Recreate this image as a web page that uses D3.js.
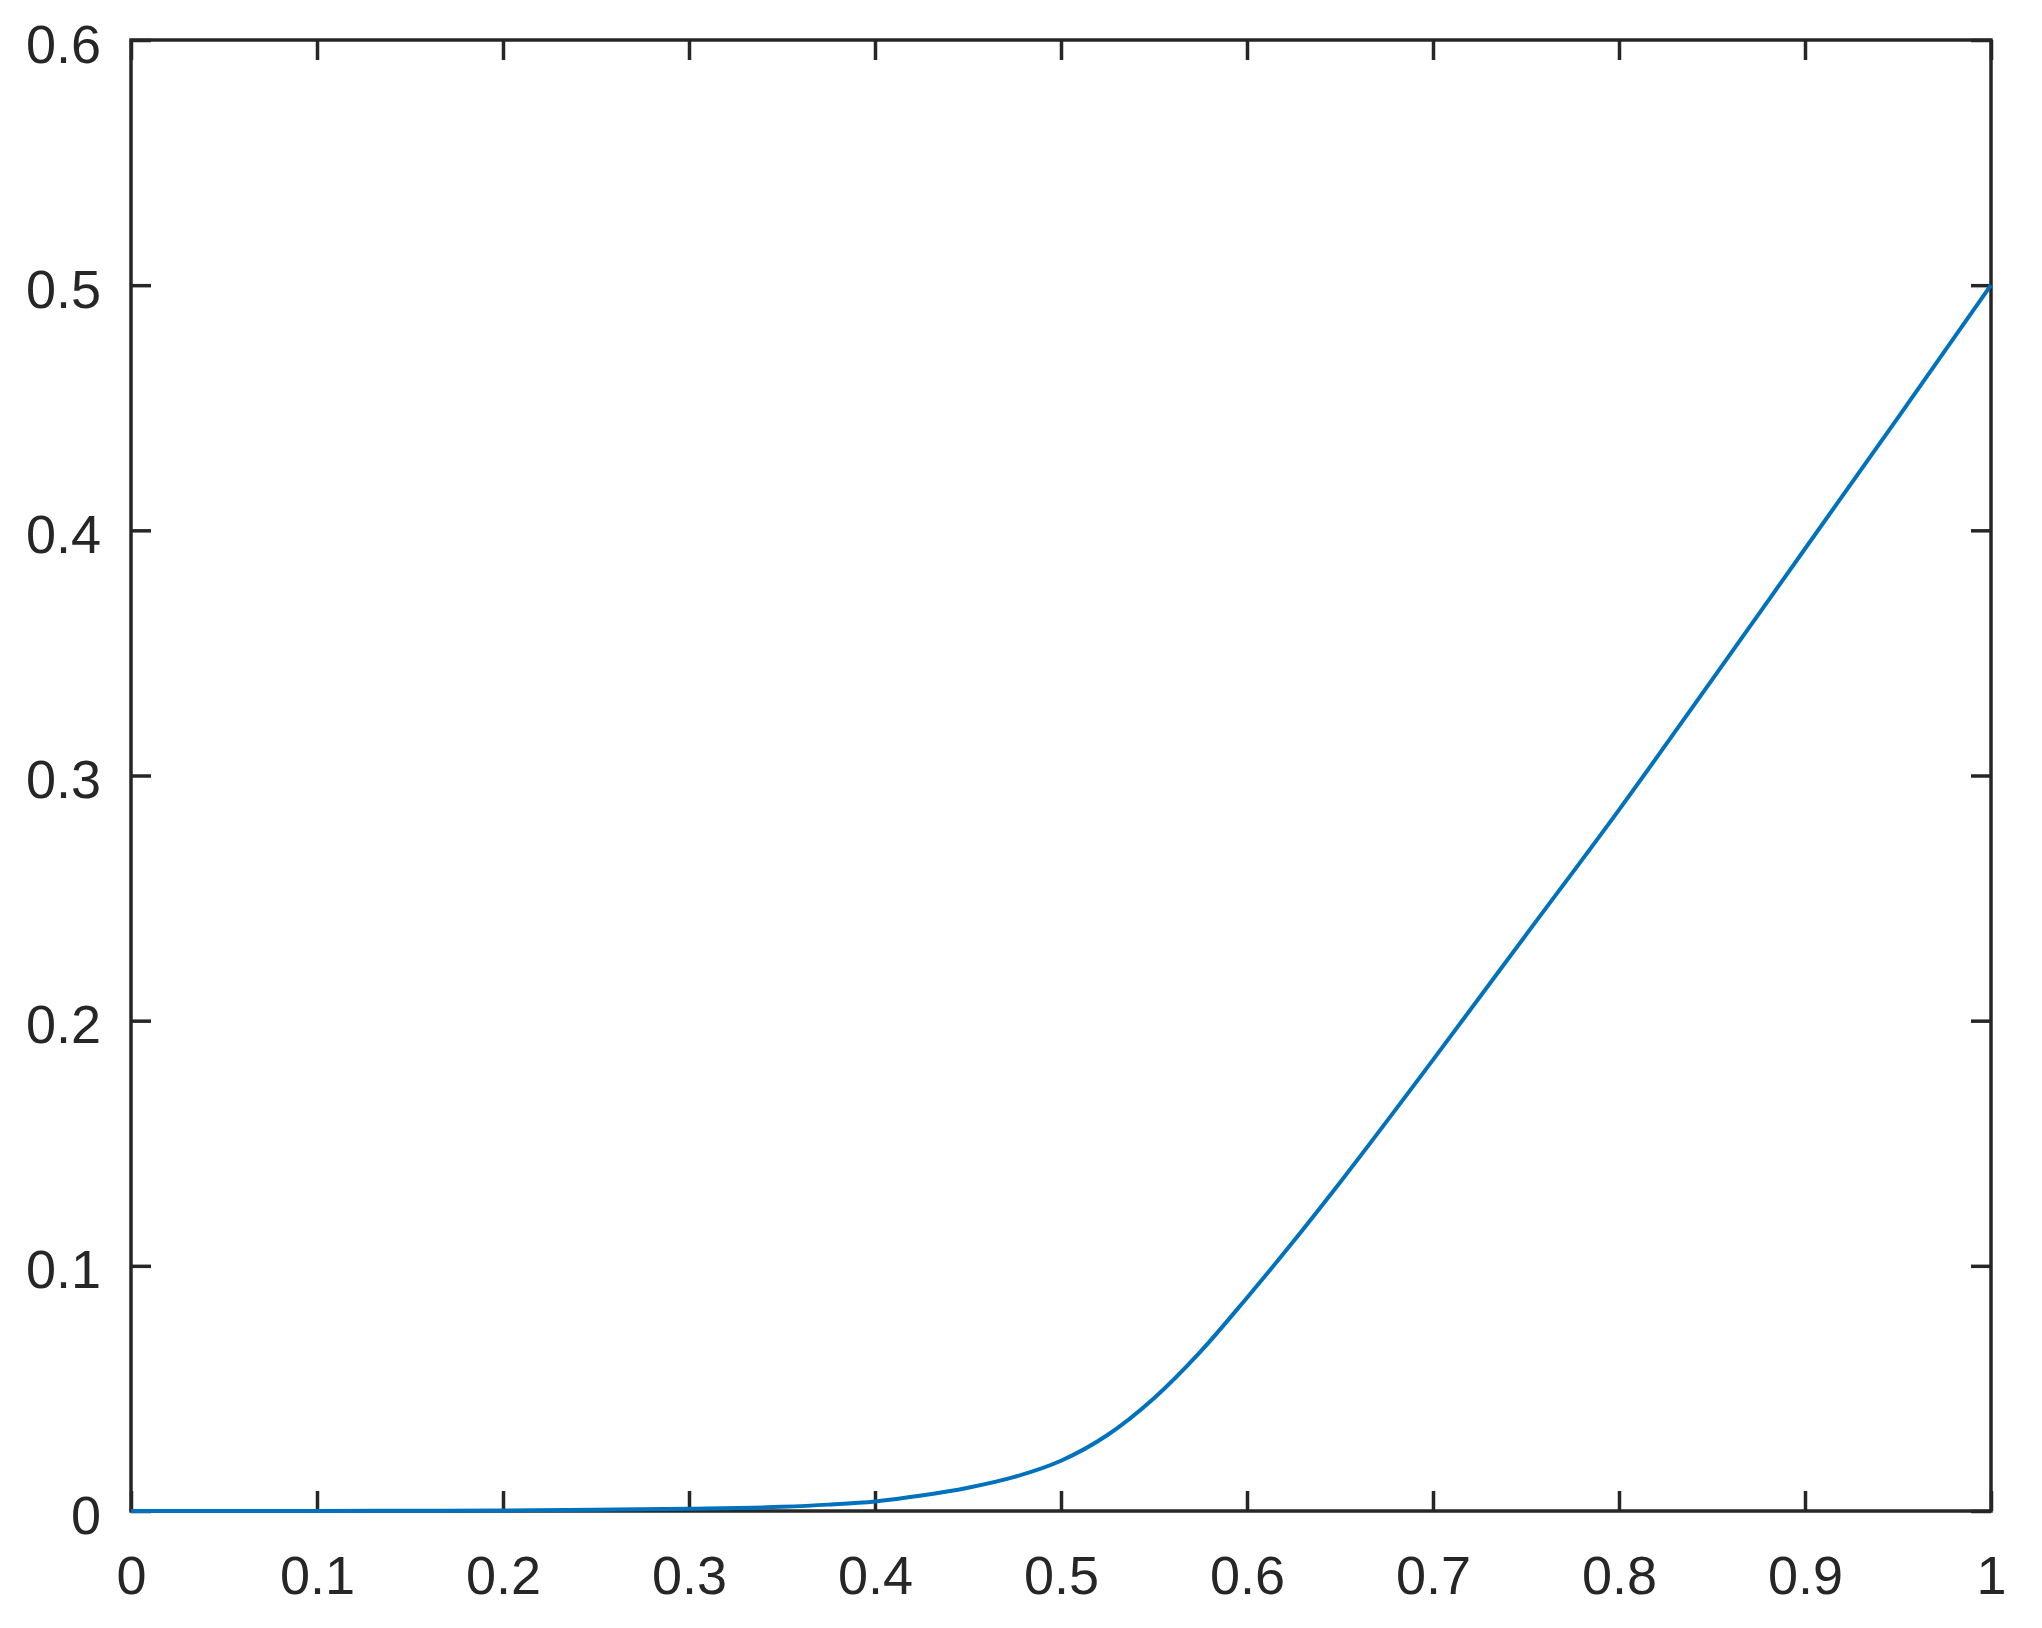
<!DOCTYPE html>
<html>
<head>
<meta charset="utf-8">
<script src="https://cdn.jsdelivr.net/npm/d3@7"></script>
<style>
  html, body { margin: 0; padding: 0; background: white; overflow: hidden; }
  svg { display: block; }
</style>
</head>
<body>
<svg width="2042" height="1628" viewBox="0 0 2042 1628"></svg>
<script>
// curve samples
const xValues = [0, 0.05, 0.1, 0.15, 0.2, 0.25, 0.3, 0.35, 0.375, 0.4, 0.425, 0.45, 0.475,
                 0.5, 0.525, 0.55, 0.575, 0.6, 0.625, 0.65, 0.7, 0.75, 0.8, 0.85, 0.9, 0.95, 1];
const yValues = [0, 0, 0, 0.0001, 0.0002, 0.0005, 0.0009, 0.0017, 0.0026, 0.0039, 0.0063, 0.0095, 0.0139,
                 0.0205, 0.0310, 0.0460, 0.0650, 0.0870, 0.110, 0.134, 0.184, 0.235, 0.286, 0.339, 0.3925, 0.446, 0.5];

const xTickValues = [0, 0.1, 0.2, 0.3, 0.4, 0.5, 0.6, 0.7, 0.8, 0.9, 1];
const xTickLabels = ['0', '0.1', '0.2', '0.3', '0.4', '0.5', '0.6', '0.7', '0.8', '0.9', '1'];
const yTickValues = [0, 0.1, 0.2, 0.3, 0.4, 0.5, 0.6];
const yTickLabels = ['0', '0.1', '0.2', '0.3', '0.4', '0.5', '0.6'];

const svg = d3.select('svg');
const svg_width = parseFloat(svg.attr('width'));
const svg_height = parseFloat(svg.attr('height'));

const margin = {
    top: 40,
    bottom: 117,
    left: 131,
    right: 51,
};
const innerWidth = svg_width - margin.left - margin.right;
const innerHeight = svg_height - margin.top - margin.bottom;

const axisColor = '#262626';
const fontFamily = '"Liberation Sans", Arial, Helvetica, sans-serif';
const tickLen = 20;

const xScale = d3.scaleLinear().domain([0, 1]).range([0, innerWidth]);
const yScale = d3.scaleLinear().domain([0, 0.6]).range([innerHeight, 0]);

const g = svg.append('g')
      .attr('transform', `translate(${margin.left}, ${margin.top})`);

const styleAxis = sel => {
    sel.attr('font-size', 54).attr('font-family', fontFamily);
    sel.selectAll('.domain').remove();
    sel.selectAll('.tick line').attr('stroke', axisColor).attr('stroke-width', 3.5);
    sel.selectAll('.tick text').attr('fill', axisColor);
};

// bottom & top (ticks point inward, like matlab)
const xAxis = d3.axisBottom(xScale)
      .tickValues(xTickValues)
      .tickFormat((d, i) => xTickLabels[i])
      .tickSize(-tickLen)
      .tickPadding(45);
g.append('g').attr('transform', `translate(0, ${innerHeight})`).call(xAxis).call(styleAxis);
g.append('g').call(d3.axisTop(xScale).tickValues(xTickValues).tickFormat('').tickSize(-tickLen)).call(styleAxis);

// left & right
const yAxis = d3.axisLeft(yScale)
      .tickValues(yTickValues)
      .tickFormat((d, i) => yTickLabels[i])
      .tickSize(-tickLen)
      .tickPadding(30);
const yAxisGroup = g.append('g').call(yAxis).call(styleAxis);
yAxisGroup.selectAll('.tick text').attr('dy', 22);
g.append('g').attr('transform', `translate(${innerWidth}, 0)`)
    .call(d3.axisRight(yScale).tickValues(yTickValues).tickFormat('').tickSize(-tickLen)).call(styleAxis);

// box
g.append('rect')
    .attr('width', innerWidth)
    .attr('height', innerHeight)
    .attr('fill', 'none')
    .attr('stroke', axisColor)
    .attr('stroke-width', 3.5);

// the curve
const data = xValues.map((x, i) => ({ x: x, y: yValues[i] }));
const line = d3.line()
      .x(d => xScale(d.x))
      .y(d => yScale(d.y))
      .curve(d3.curveMonotoneX);
g.append('path')
    .datum(data)
    .attr('d', line)
    .attr('fill', 'none')
    .attr('stroke', '#0072BD')
    .attr('stroke-width', 4);
</script>
</body>
</html>
